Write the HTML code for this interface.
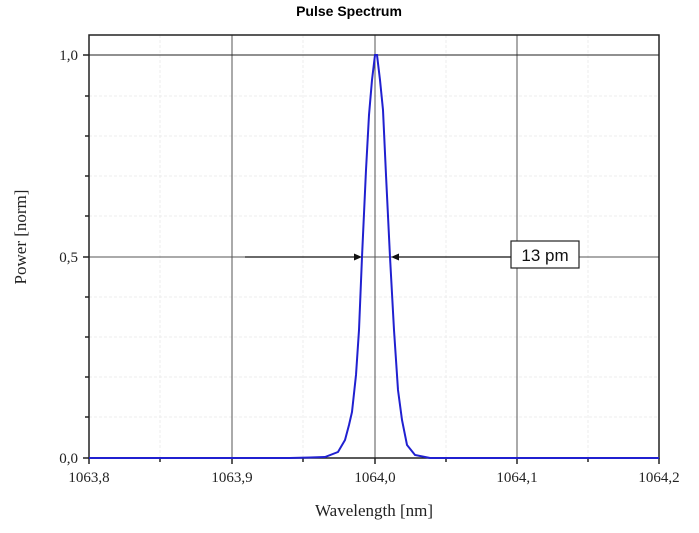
<!DOCTYPE html>
<html><head><meta charset="utf-8"><style>
body{margin:0;background:#fff;width:699px;height:528px;overflow:hidden}
</style></head><body>
<svg width="699" height="528" xmlns="http://www.w3.org/2000/svg">
<text x="349" y="16" text-anchor="middle" font-family="Liberation Sans, sans-serif" font-weight="bold" font-size="14">Pulse Spectrum</text>
<g stroke="#ececec" stroke-width="1" stroke-dasharray="3,2">
<line x1="160" y1="35" x2="160" y2="458"/><line x1="303" y1="35" x2="303" y2="458"/>
<line x1="446" y1="35" x2="446" y2="458"/><line x1="588" y1="35" x2="588" y2="458"/>
<line x1="89" y1="96" x2="659" y2="96"/><line x1="89" y1="136" x2="659" y2="136"/>
<line x1="89" y1="176" x2="659" y2="176"/><line x1="89" y1="216" x2="659" y2="216"/>
<line x1="89" y1="297" x2="659" y2="297"/><line x1="89" y1="337" x2="659" y2="337"/>
<line x1="89" y1="377" x2="659" y2="377"/><line x1="89" y1="417" x2="659" y2="417"/>
</g>
<g stroke="#555" stroke-width="1">
<line x1="232" y1="35" x2="232" y2="458"/><line x1="375" y1="35" x2="375" y2="458"/><line x1="517" y1="35" x2="517" y2="458"/>
<line x1="89" y1="55" x2="659" y2="55" stroke="#222"/><line x1="89" y1="257" x2="659" y2="257"/>
</g>
<rect x="89" y="35" width="570" height="423" fill="none" stroke="#222" stroke-width="1.5"/>
<g stroke="#222" stroke-width="1.5">
<line x1="83" y1="55" x2="89" y2="55"/><line x1="83" y1="257" x2="89" y2="257"/><line x1="83" y1="458" x2="89" y2="458"/>
<line x1="85" y1="96" x2="89" y2="96"/><line x1="85" y1="136" x2="89" y2="136"/><line x1="85" y1="176" x2="89" y2="176"/><line x1="85" y1="216" x2="89" y2="216"/>
<line x1="85" y1="297" x2="89" y2="297"/><line x1="85" y1="337" x2="89" y2="337"/><line x1="85" y1="377" x2="89" y2="377"/><line x1="85" y1="417" x2="89" y2="417"/>
<line x1="89" y1="458" x2="89" y2="464"/><line x1="232" y1="458" x2="232" y2="464"/><line x1="375" y1="458" x2="375" y2="464"/><line x1="517" y1="458" x2="517" y2="464"/><line x1="659" y1="458" x2="659" y2="464"/>
<line x1="160" y1="458" x2="160" y2="462"/><line x1="303" y1="458" x2="303" y2="462"/><line x1="446" y1="458" x2="446" y2="462"/><line x1="588" y1="458" x2="588" y2="462"/>
</g>
<g font-family="Liberation Serif, serif" font-size="15" fill="#222">
<text x="78" y="60" text-anchor="end">1,0</text><text x="78" y="262" text-anchor="end">0,5</text><text x="78" y="463" text-anchor="end">0,0</text>
<text x="89" y="482" text-anchor="middle">1063,8</text><text x="232" y="482" text-anchor="middle">1063,9</text><text x="375" y="482" text-anchor="middle">1064,0</text><text x="517" y="482" text-anchor="middle">1064,1</text><text x="659" y="482" text-anchor="middle">1064,2</text>
<text x="374" y="516" text-anchor="middle" font-size="17">Wavelength [nm]</text>
<text transform="translate(26,237) rotate(-90)" text-anchor="middle" font-size="17">Power [norm]</text>
</g>
<polyline fill="none" stroke="#2020d0" stroke-width="2" points="89,458 290,458 310,457.5 325,457 338,452 345,440 349,425 352,412 356,375 359,330 362,257 366,170 369,115 372,80 375,55 377,55 380,80 383,110 386,175 390,257 394,330 398,390 402,420 407,445 415,455 430,458 659,458"/>
<g stroke="#111" stroke-width="1.2">
<line x1="245" y1="257" x2="356" y2="257"/><line x1="398" y1="257" x2="512" y2="257"/>
</g>
<polygon points="362,257 354,253.5 354,260.5" fill="#111"/>
<polygon points="391,257 399,253.5 399,260.5" fill="#111"/>
<rect x="511" y="241" width="68" height="27" fill="#fff" stroke="#222" stroke-width="1.2"/>
<text x="545" y="261" text-anchor="middle" font-family="Liberation Sans, sans-serif" font-size="17" fill="#111">13 pm</text>
</svg>
</body></html>
